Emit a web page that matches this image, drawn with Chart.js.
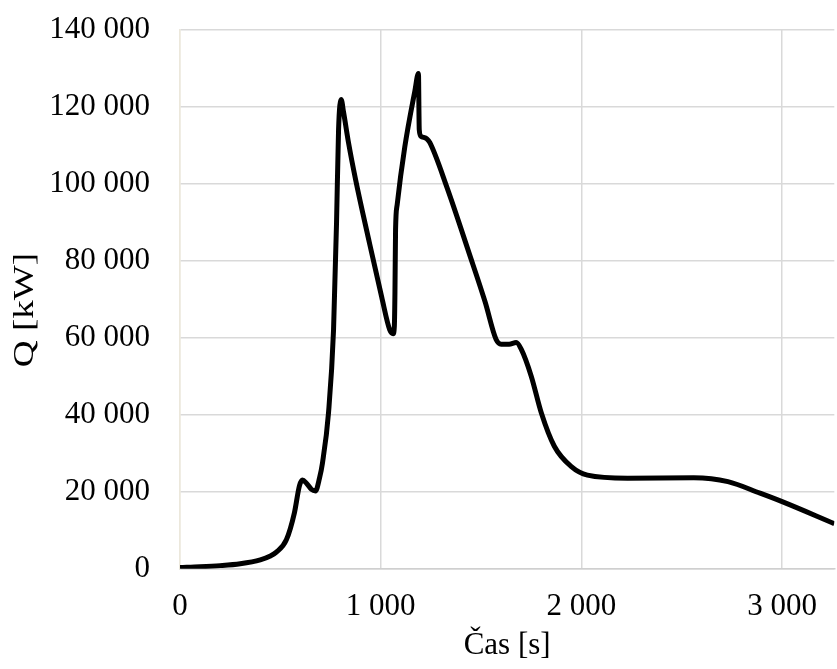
<!DOCTYPE html>
<html>
<head>
<meta charset="utf-8">
<script src="https://cdn.jsdelivr.net/npm/chart.js@4/dist/chart.umd.min.js"></script>
<style>
  html, body { margin: 0; padding: 0; background: #fff; overflow: hidden; }
  #chart { display: block; }
</style>
</head>
<body>
<canvas id="chart" width="837" height="669"></canvas>
<script>
// time [s] and heat release [kW]
const timeS = [0, 100, 200, 300, 400, 450, 480, 530, 570, 595, 610, 630, 655, 675, 695, 710, 740, 765, 780, 790, 803,
  815, 840, 875, 940, 1005, 1045, 1062, 1068, 1071, 1074, 1082, 1120, 1170, 1188, 1192, 1200, 1230, 1245,
  1330, 1440, 1520, 1575, 1600, 1640, 1675, 1700, 1750, 1800, 1865, 1950, 2030, 2230, 2560, 2730, 2890, 3000, 3260];
const heatKW = [300, 500, 800, 1300, 2300, 3300, 4300, 7500, 14500, 21500, 23000, 22200, 20600, 20200, 23500, 27500, 40500, 62000, 90000, 114000, 121800,
  118500, 110500, 101000, 85500, 70500, 62000, 61000, 63000, 72000, 88000, 94500, 109500, 124000, 128600, 114000, 112300, 111600, 110600,
  99000, 82000, 69300, 59500, 58300, 58300, 58700, 57000, 50000, 40500, 31800, 26500, 24300, 23500, 23600, 22600, 19600, 17400, 11700];
const xTicks = [0, 1000, 2000, 3000];
const yTitle = 'Q [kW]';
const xTitle = 'Čas [s]';

const fmt = v => String(v).replace(/\B(?=(\d{3})+(?!\d))/g, ' ');
const serif = "'Liberation Serif', 'Times New Roman', serif";

// y axis title in Excel is drawn stretched along its length
const yTitlePlugin = {
  id: 'yTitle',
  afterDraw(chart) {
    const ctx = chart.ctx;
    ctx.save();
    ctx.translate(25, 310);
    ctx.rotate(-Math.PI / 2);
    ctx.scale(1.28, 1);
    ctx.font = '29px ' + serif;
    ctx.fillStyle = '#000';
    ctx.textAlign = 'center';
    ctx.textBaseline = 'middle';
    ctx.fillText(yTitle, 0, 0);
    ctx.restore();
  }
};

new Chart(document.getElementById('chart'), {
  type: 'line',
  data: {
    datasets: [{
      data: timeS.map((t, i) => ({ x: t, y: heatKW[i] })),
      borderColor: '#000',
      borderWidth: 5,
      pointRadius: 0,
      fill: false,
      cubicInterpolationMode: 'monotone'
    }]
  },
  options: {
    responsive: false,
    animation: false,
    layout: { padding: { top: 29.5, right: 0, left: 0, bottom: 0 } },
    plugins: { legend: { display: false }, tooltip: { enabled: false } },
    scales: {
      x: {
        type: 'linear',
        min: 0,
        max: 3260,
        afterBuildTicks: s => { s.ticks = xTicks.map(v => ({ value: v })); },
        afterFit: s => { s.height = 100.3; },
        ticks: { color: '#000', padding: 20, maxRotation: 0, font: { family: serif, size: 31 }, callback: v => fmt(v) },
        grid: { color: c => c.tick && c.tick.value === 0 ? '#ece8dc' : '#d9d9d9', lineWidth: 1.5, drawTicks: false },
        border: { color: '#cfcfcf', width: 1.5 },
        title: { display: true, text: xTitle, color: '#000', font: { family: serif, size: 31 }, padding: { top: 0, bottom: 5 } }
      },
      y: {
        min: 0,
        max: 140000,
        afterFit: s => { s.width = 180; },
        ticks: { stepSize: 20000, color: '#000', padding: 0, font: { family: serif, size: 31 }, callback: v => fmt(v) },
        // invisible tick marks give the 30px gap without padding the chart top
        grid: { color: '#d9d9d9', lineWidth: 1.5, drawTicks: true, tickLength: 30, tickColor: 'rgba(0,0,0,0)' },
        border: { color: '#ece8dc', width: 1.5 }
      }
    }
  },
  plugins: [yTitlePlugin]
});
</script>
</body>
</html>
